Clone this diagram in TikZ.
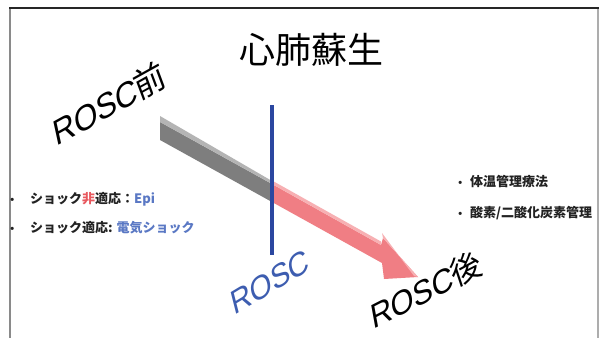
\documentclass[tikz,border=0pt]{standalone}
\usepackage{fontspec}
\newfontfamily\jp{Noto Sans CJK JP}
\newfontfamily\lat{Liberation Sans}
\newfontfamily\latsl[FakeSlant=0.3]{Liberation Sans}
\newfontfamily\jpsl[FakeSlant=0.15]{Noto Sans CJK JP}
\definecolor{framegray}{HTML}{8A8A8A}
\definecolor{arrgray}{HTML}{7E7E7E}
\definecolor{arrgraylt}{HTML}{B4B4B4}
\definecolor{arrred}{HTML}{F07E84}
\definecolor{arrredlt}{HTML}{F7B0B3}
\definecolor{lineblue}{HTML}{2B47A0}
\definecolor{txtblue}{HTML}{3D5DB0}
\definecolor{lblue}{HTML}{5A78C4}
\definecolor{lred}{HTML}{E8585E}
\definecolor{txtdark}{HTML}{222222}
\tikzset{
  bullettxt/.style={anchor=west, inner sep=0pt, text=txtdark, font=\jp\bfseries\fontsize{13}{15}\selectfont},
  slanttxt/.style={anchor=base west, inner sep=0pt},
}
\newcommand{\bul}[1]{\makebox[6pt][c]{\lat\fontsize{11}{12}\selectfont •}\hspace{#1}}
\begin{document}
\begin{tikzpicture}[x=1pt,y=-1pt]
\useasboundingbox[fill=white] (0,0) rectangle (600,338);
% frame
\draw[framegray, line width=1.6pt] (10,8) -- (10,338);
\draw[framegray!70, line width=1.3pt] (598,8) -- (598,338);
\draw[black!85, line width=1.3pt] (9.2,8) -- (598.6,8);
% title
\node (title) at (311,50) {\jp\fontsize{36}{40}\selectfont 心肺蘇生};
% arrow shape
\coordinate (gtl) at (160,122);
\coordinate (gbl) at (160,140);
\coordinate (mt) at (272,184);
\coordinate (mb) at (272,202);
\coordinate (st) at (381,245);
\coordinate (sb) at (382,263);
\coordinate (bt) at (383,238);
\coordinate (tip) at (418,277);
\coordinate (bb) at (384,279);
\fill[arrgray] (gtl) -- (mt) -- (mb) -- (gbl) -- cycle;
\fill[arrgraylt] (gtl) -- (mt) -- ([yshift=3]mt) -- ([yshift=6]gtl) -- cycle;
\fill[arrred] (mt) -- (st) -- (bt) -- (tip) -- (bb) -- (sb) -- (mb) -- cycle;
\fill[arrredlt] (mt) -- (st) -- ([yshift=3.5]st) -- ([yshift=3.5]mt) -- cycle;
\fill[arrredlt] (bt) -- (tip) -- ([xshift=-4,yshift=1]tip) -- ([xshift=-1,yshift=5]bt) -- cycle;
% ROSC line
\draw[lineblue, line width=4.5pt] (272,105) -- (272,255);
% slanted labels
\node[slanttxt, rotate=29] (pre) at (56,147) {\fontsize{33}{38}\selectfont{\latsl ROSC}{\jpsl 前}};
\node[slanttxt, rotate=31, text=txtblue] (rosc) at (234,316) {\fontsize{31}{36}\selectfont\latsl ROSC};
\node[slanttxt, rotate=27] (post) at (373,330) {\fontsize{32}{37}\selectfont{\latsl ROSC}{\jpsl 後}};
% left bullets
\node[bullettxt] (l1) at (9,199) {\bul{15pt}ショック\textcolor{lred}{非}適応：\textcolor{lblue}{Epi}};
\node[bullettxt] (l2) at (9,228) {\bul{15pt}ショック適応: \textcolor{lblue}{電気ショック}};
% right bullets
\node[bullettxt] (r1) at (457,182) {\bul{7pt}体温管理療法};
\node[bullettxt] (r2) at (457,213) {\bul{7pt}酸素/二酸化炭素管理};
\end{tikzpicture}
\end{document}
